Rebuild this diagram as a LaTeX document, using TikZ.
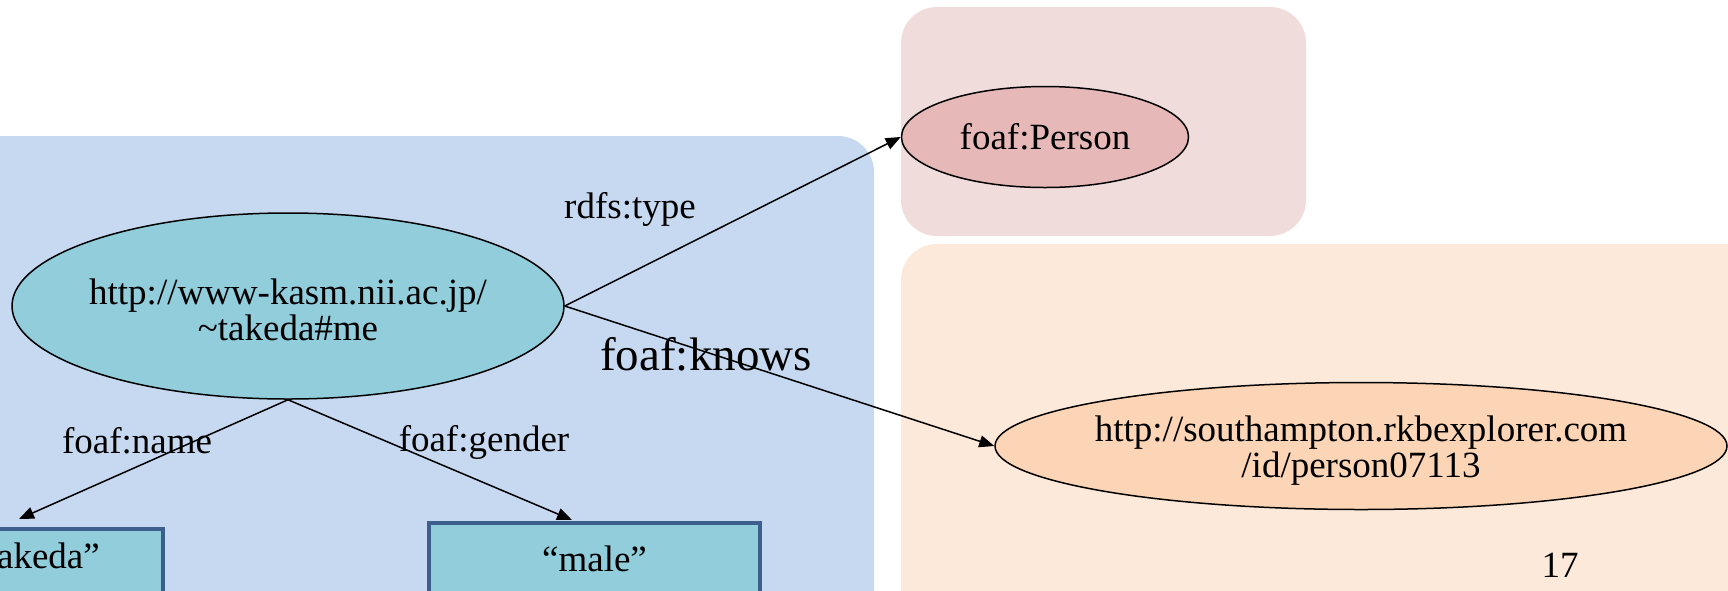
\documentclass[tikz,border=0pt]{standalone}
\usepackage{fontspec}
\setmainfont{Liberation Serif}
\usetikzlibrary{shapes.geometric,arrows.meta}
\definecolor{bluebg}{RGB}{198,217,240}
\definecolor{teal}{RGB}{146,205,220}
\definecolor{boxline}{RGB}{60,95,142}
\definecolor{pinkbg}{RGB}{241,220,220}
\definecolor{pinkfill}{RGB}{230,185,184}
\definecolor{peachbg}{RGB}{253,233,218}
\definecolor{peachfill}{RGB}{251,213,181}
\begin{document}
\begin{tikzpicture}[x=1pt,y=-1pt,
  txt/.style={font=\fontsize{37}{36}\selectfont},
  bigtxt/.style={font=\fontsize{47}{52}\selectfont},
  res/.style={ellipse,draw=black,line width=1.5pt,inner sep=0pt},
  restext/.style={align=center,txt,inner sep=0pt},
  lit/.style={rectangle,draw=boxline,line width=4pt,fill=teal,inner sep=0pt,txt},
  group/.style={rounded corners=36pt},
  rel/.style={line width=1.5pt,-{Triangle[length=15pt,width=12pt]}},
  lbl/.style={txt,inner sep=0pt}]
\useasboundingbox (0,0) rectangle (1728,590);
\clip (0,0) rectangle (1728,590);
% backgrounds
\fill[bluebg,group] (-60,136) rectangle (874,700);
\fill[pinkbg,group] (901,7) rectangle (1306,236);
\fill[peachbg,group] (901,244) rectangle (1790,700);
% nodes
\node[res,fill=teal,minimum width=552pt,minimum height=186pt,
  label={[restext,yshift=-4pt]center:http://www-kasm.nii.ac.jp/\\\textasciitilde takeda\#me}] (me) at (288,306) {};
\node[res,fill=pinkfill,minimum width=287pt,minimum height=101pt,
  label={[restext]center:foaf:Person}] (person) at (1045,137) {};
\node[res,fill=peachfill,minimum width=732pt,minimum height=127pt,
  label={[restext,yshift=-5pt]center:http://southampton.rkbexplorer.com\\/id/person07113}] (other) at (1361,446) {};
\node[lit,minimum width=380pt,minimum height=90pt] (name) at (-27,574) {};
\node[txt,anchor=east,inner sep=0pt] (nametext) at (100,556) {akeda”};
\node[lit,minimum width=331pt,minimum height=72pt] (gender) at (594.5,559) {“male”};
\coordinate (nameend) at (19,519);
\coordinate (genderend) at (572,520);
% connectors
\draw[rel] (me.east) -- (person.west);
\draw[rel] (me.east) -- (other.west);
\draw[rel] (me.south) -- (nameend);
\draw[rel] (me.south) -- (genderend);
% labels
\node[lbl] (ltype) at (630,209) {rdfs:type};
\node[bigtxt,inner sep=0pt] (lknows) at (706,354) {foaf:knows};
\node[lbl] (lname) at (137,441) {foaf:name};
\node[lbl] (lgender) at (484,442) {foaf:gender};
\node[lbl] (page) at (1560,565) {17};
\end{tikzpicture}
\end{document}
